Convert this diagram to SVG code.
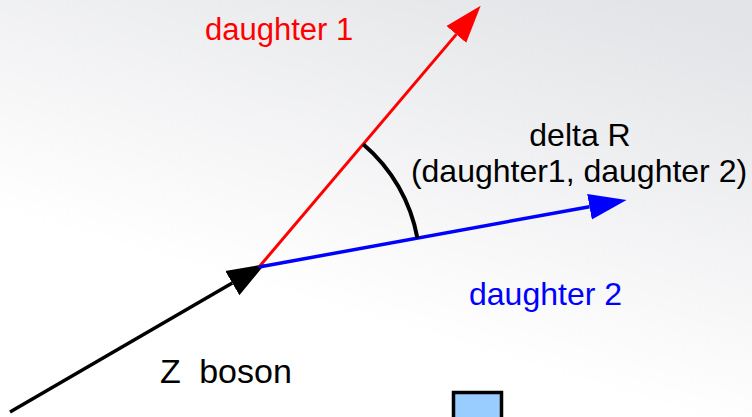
<svg xmlns="http://www.w3.org/2000/svg" width="752" height="417" viewBox="0 0 752 417">
<defs>
<linearGradient id="bg" x1="0.85" y1="0" x2="0.45" y2="0.75">
<stop offset="0" stop-color="#e3e4e7"/>
<stop offset="1" stop-color="#ffffff"/>
</linearGradient>
<marker id="ahR" markerUnits="userSpaceOnUse" markerWidth="40" markerHeight="30" viewBox="0 -12 34 24" refX="0" refY="0" orient="auto"><path d="M0,-11 L32,0 L0,11 z" fill="#ff0000"/></marker>
<marker id="ahB" markerUnits="userSpaceOnUse" markerWidth="40" markerHeight="30" viewBox="0 -12 34 24" refX="0" refY="0" orient="auto"><path d="M0,-11 L32,0 L0,11 z" fill="#0000ff"/></marker>
<marker id="ahK" markerUnits="userSpaceOnUse" markerWidth="40" markerHeight="30" viewBox="0 -12 34 24" refX="0" refY="0" orient="auto"><path d="M0,-12 L32,0 L0,12 z" fill="#000000"/></marker>
</defs>
<style>
text{font-family:"Liberation Sans",Arial,sans-serif;font-size:31px}
.c{fill:none;stroke-linecap:butt}
</style>
<rect x="0" y="0" width="752" height="417" fill="url(#bg)"/>
<g id="connectors">
<line class="c" x1="10" y1="412" x2="232.3" y2="283.1" stroke="#000" stroke-width="3.5" marker-end="url(#ahK)"/>
<line class="c" x1="259" y1="267" x2="456.3" y2="34.4" stroke="#ff0000" stroke-width="3" marker-end="url(#ahR)"/>
<line class="c" x1="259" y1="267" x2="589.5" y2="206.7" stroke="#0000ff" stroke-width="3.5" marker-end="url(#ahB)"/>
<path class="c" d="M363.2,144.2 A161,161 0 0 1 417.4,238.2" stroke="#000" stroke-width="4"/>
</g>
<g id="daughter1"><text x="205" y="40" fill="#ff0000">daughter 1</text></g>
<g id="deltaR">
<text x="580" y="146" text-anchor="middle" style="font-size:32px">delta R</text>
<text x="579" y="182" text-anchor="middle" style="font-size:32px">(daughter1, daughter 2)</text>
</g>
<g id="daughter2"><text x="469" y="305" fill="#0000ff" style="font-size:32px">daughter 2</text></g>
<g id="zboson"><text x="160" y="383" style="font-size:34px" word-spacing="9">Z boson</text></g>
<g id="box"><rect x="453.5" y="392.5" width="48" height="40" fill="#99ccff" stroke="#000" stroke-width="3.5"/></g>
</svg>
